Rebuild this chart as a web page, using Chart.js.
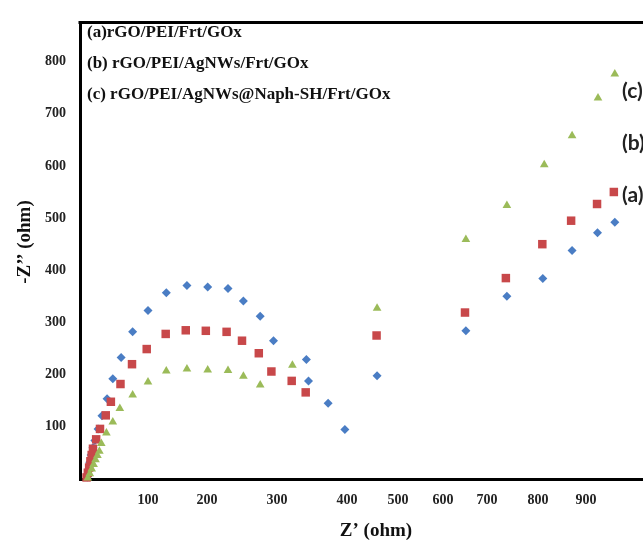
<!DOCTYPE html>
<html lang="en">
<head>
    <meta charset="UTF-8">
    <title>Nyquist plot</title>
    <script src="https://cdn.jsdelivr.net/npm/chart.js@4.4.1/dist/chart.umd.min.js"></script>
    <style>
        body {
            margin: 0;
            overflow: hidden;
            background-color: white;
        }
        .chart-container {
            position: relative;
            width: 700px;
            height: 541px;
        }
    </style>
</head>
<body>
    <div class="chart-container">
        <canvas id="nyquist"></canvas>
    </div>

    <script>
        // (a) rGO/PEI/Frt/GOx
        const zReA = [5, 7, 9, 11, 14, 17, 22, 28, 36, 45, 58, 76, 100, 131, 166, 201, 230, 252, 276, 295, 342, 345, 373, 397, 459, 652, 739, 810, 871, 924, 960];
        const zImA = [4, 18, 32, 46, 60, 74, 96, 121, 154, 192, 233, 282, 323, 357, 371, 368, 365, 341, 312, 265, 229, 188, 145, 95, 198, 284, 350, 384, 438, 472, 492];

        // (b) rGO/PEI/AgNWs/Frt/GOx
        const zReB = [4, 6, 8, 10, 12, 14, 19, 25, 34, 42, 57, 75, 98, 130, 164, 198, 228, 250, 274, 292, 321, 341, 458, 650, 737, 809, 869, 923, 958];
        const zImB = [3, 12, 22, 34, 46, 58, 76, 96, 122, 148, 182, 220, 249, 278, 285, 284, 282, 265, 241, 206, 188, 166, 275, 319, 385, 450, 495, 527, 550];

        // (c) rGO/PEI/AgNWs@Naph-SH/Frt/GOx
        const zReC = [6, 9, 12, 15, 18, 21, 24, 27, 35, 45, 56, 76, 100, 131, 166, 201, 230, 252, 276, 322, 459, 652, 739, 813, 871, 925, 960];
        const zImC = [2, 10, 19, 28, 37, 45, 53, 68, 88, 109, 135, 161, 186, 207, 211, 209, 208, 197, 180, 218, 327, 459, 524, 602, 658, 730, 776];

        const seriesNames = ['(a)rGO/PEI/Frt/GOx', '(b) rGO/PEI/AgNWs/Frt/GOx', '(c) rGO/PEI/AgNWs@Naph-SH/Frt/GOx'];
        const curveTags = ['(a)', '(b)', '(c)'];
        const xTicks = [100, 200, 300, 400, 500, 600, 700, 800, 900];
        const yTicks = [100, 200, 300, 400, 500, 600, 700, 800];

        const toPoints = (xs, ys) => xs.map((x, i) => ({ x: x, y: ys[i] }));

        // Linear scale whose ohm values sit at uneven offsets between the labelled ticks
        class SegmentScale extends Chart.LinearScale {
            static id = 'segment';
            static defaults = Chart.LinearScale.defaults;

            getPixelForValue(value) {
                const k = this.options.knots;
                let i = 1;
                while (i < k.length - 1 && value > k[i][0]) i++;
                const v0 = k[i - 1][0], p0 = k[i - 1][1], v1 = k[i][0], p1 = k[i][1];
                return this.left + p0 + (value - v0) / (v1 - v0) * (p1 - p0);
            }

            getValueForPixel(pixel) {
                const k = this.options.knots;
                const off = pixel - this.left;
                let i = 1;
                while (i < k.length - 1 && off > k[i][1]) i++;
                const v0 = k[i - 1][0], p0 = k[i - 1][1], v1 = k[i][0], p1 = k[i][1];
                return v0 + (off - p0) / (p1 - p0) * (v1 - v0);
            }
        }
        Chart.register(SegmentScale);

        const serif = 'Liberation Serif, Times New Roman, serif';

        // frame top edge, in-plot legend, curve tags and axis titles
        const decorations = {
            id: 'decorations',
            afterDraw(chart) {
                const ctx = chart.ctx;
                const area = chart.chartArea;
                ctx.save();
                ctx.strokeStyle = '#000';
                ctx.lineWidth = 3;
                ctx.lineCap = 'square';
                ctx.beginPath();
                ctx.moveTo(area.left, area.top);
                ctx.lineTo(area.right, area.top);
                ctx.stroke();

                ctx.fillStyle = '#111';
                ctx.textBaseline = 'middle';
                ctx.textAlign = 'left';
                ctx.font = 'bold 17px ' + serif;
                [33, 64, 95].forEach((y, i) => ctx.fillText(seriesNames[i], 87, y));

                ctx.font = 'bold 21px Lato, Carlito, sans-serif';
                ctx.fillStyle = '#222';
                [195, 143, 91].forEach((y, i) => ctx.fillText(curveTags[i], 622, y));

                ctx.fillStyle = '#111';
                ctx.textAlign = 'center';
                ctx.font = 'bold 19px ' + serif;
                ctx.fillText('Z’ (ohm)', 376, 531);

                ctx.translate(25, 242);
                ctx.rotate(-Math.PI / 2);
                ctx.fillText('-Z’’ (ohm)', 0, 0);
                ctx.restore();
            }
        };

        const ctx = document.getElementById('nyquist').getContext('2d');
        new Chart(ctx, {
            type: 'scatter',
            data: {
                datasets: [{
                    label: seriesNames[0],
                    data: toPoints(zReA, zImA),
                    pointStyle: 'rectRot',
                    pointRadius: 4.5,
                    backgroundColor: '#4A7DC4',
                    borderColor: '#4A7DC4',
                    borderWidth: 0,
                    order: 3
                }, {
                    label: seriesNames[1],
                    data: toPoints(zReB, zImB),
                    pointStyle: 'rect',
                    pointRadius: 6,
                    backgroundColor: '#C8484A',
                    borderColor: '#C8484A',
                    borderWidth: 0,
                    order: 2
                }, {
                    label: seriesNames[2],
                    data: toPoints(zReC, zImC),
                    pointStyle: 'triangle',
                    pointRadius: 5,
                    backgroundColor: '#9BBB59',
                    borderColor: '#9BBB59',
                    borderWidth: 0,
                    order: 1
                }]
            },
            options: {
                responsive: true,
                maintainAspectRatio: false,
                animation: false,
                clip: false,
                layout: {
                    padding: { top: 14, right: 20, left: 0, bottom: 0 }
                },
                plugins: {
                    legend: { display: false },
                    tooltip: { enabled: false }
                },
                scales: {
                    x: {
                        type: 'segment',
                        min: 0,
                        max: 1000,
                        knots: [[0, 4], [100, 68], [200, 127], [300, 197], [400, 267], [500, 318],
                                [600, 363], [700, 407], [800, 458], [900, 506], [1000, 554]],
                        grid: { display: false, drawTicks: false },
                        border: { display: true, color: '#000', width: 3 },
                        afterBuildTicks: scale => { scale.ticks = xTicks.map(v => ({ value: v })); },
                        afterFit: scale => { scale.height = 62; },
                        ticks: {
                            padding: 13,
                            color: '#222',
                            maxRotation: 0,
                            autoSkip: false,
                            font: { family: serif, size: 14, weight: 'bold' }
                        }
                    },
                    y: {
                        min: 0,
                        max: 875,
                        grid: { display: false, drawTicks: false },
                        border: { display: true, color: '#000', width: 3 },
                        afterBuildTicks: scale => { scale.ticks = yTicks.map(v => ({ value: v })); },
                        afterFit: scale => { scale.width = 80; },
                        ticks: {
                            padding: 14,
                            color: '#222',
                            font: { family: serif, size: 14, weight: 'bold' }
                        }
                    }
                }
            },
            plugins: [decorations]
        });
    </script>
</body>
</html>
